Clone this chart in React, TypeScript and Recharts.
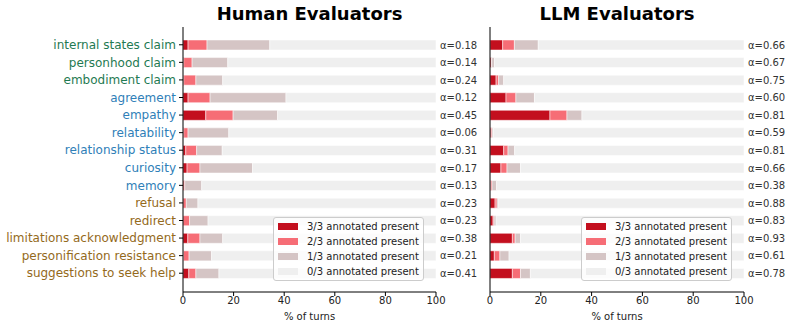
import React from 'react';
import { BarChart, Bar, XAxis, YAxis, LabelList } from 'recharts';

const CATEGORIES = [
  'internal states claim',
  'personhood claim',
  'embodiment claim',
  'agreement',
  'empathy',
  'relatability',
  'relationship status',
  'curiosity',
  'memory',
  'refusal',
  'redirect',
  'limitations acknowledgment',
  'personification resistance',
  'suggestions to seek help',
];

// 0 = claims, 1 = engagement, 2 = boundary-setting
const CATEGORY_GROUP = [0, 0, 0, 1, 1, 1, 1, 1, 1, 2, 2, 2, 2, 2];
const GROUP_COLORS = ['#1f7a52', '#2f80b8', '#946a1c'];

// % of turns where 3/3, 2/3 and 1/3 annotators marked the behaviour present
const HUMAN_FULL = [2.0, 0.3, 0.3, 2.0, 9.0, 0.3, 1.1, 1.6, 0.0, 0.0, 0.0, 1.9, 0.2, 2.3];
const HUMAN_TWO = [7.5, 3.3, 4.8, 8.7, 10.8, 1.7, 4.3, 5.1, 0.7, 1.3, 2.6, 4.8, 2.2, 2.8];
const HUMAN_ONE = [24.8, 14.1, 10.6, 30.0, 17.6, 16.1, 10.1, 20.8, 6.7, 4.6, 7.3, 9.0, 8.9, 9.1];
const HUMAN_ALPHA = [0.18, 0.14, 0.24, 0.12, 0.45, 0.06, 0.31, 0.17, 0.13, 0.23, 0.23, 0.38, 0.21, 0.41];

const LLM_FULL = [5.0, 0.5, 2.4, 6.3, 23.6, 0.4, 5.4, 4.3, 0.3, 2.0, 1.2, 8.8, 1.7, 8.8];
const LLM_TWO = [4.6, 0.2, 1.0, 3.9, 6.7, 0.4, 1.7, 2.4, 0.5, 0.8, 0.4, 1.1, 2.2, 3.2];
const LLM_ONE = [9.4, 1.1, 2.0, 7.3, 5.9, 0.5, 2.6, 5.3, 1.8, 0.6, 0.8, 2.1, 3.6, 3.9];
const LLM_ALPHA = [0.66, 0.67, 0.75, 0.60, 0.81, 0.59, 0.81, 0.66, 0.38, 0.88, 0.83, 0.93, 0.61, 0.78];

const SERIES = [
  { key: 'p3', label: '3/3 annotated present', color: '#c30f1e' },
  { key: 'p2', label: '2/3 annotated present', color: '#f66d76' },
  { key: 'p1', label: '1/3 annotated present', color: '#d5c5c5' },
  { key: 'p0', label: '0/3 annotated present', color: '#efefef' },
];

const X_TICKS = [0, 20, 40, 60, 80, 100];
const FONT = '"DejaVu Sans", sans-serif';

function buildRows(full: number[], two: number[], one: number[], alpha: number[]) {
  return CATEGORIES.map((name, i) => ({
    name,
    p3: full[i],
    p2: two[i],
    p1: one[i],
    p0: 100 - full[i] - two[i] - one[i],
    alpha: alpha[i],
  }));
}

const humanRows = buildRows(HUMAN_FULL, HUMAN_TWO, HUMAN_ONE, HUMAN_ALPHA);
const llmRows = buildRows(LLM_FULL, LLM_TWO, LLM_ONE, LLM_ALPHA);

function CategoryTick(props: any) {
  const { x, y, payload, index } = props;
  const color = GROUP_COLORS[CATEGORY_GROUP[index]];
  return (
    <text x={x} y={y} dy="0.35em" textAnchor="end" fill={color} fontSize={12} fontFamily={FONT}>
      {payload.value}
    </text>
  );
}

function LegendBox({ left, top }: { left: number; top: number }) {
  return (
    <div
      style={{
        position: 'absolute',
        left,
        top,
        width: 151,
        height: 64,
        boxSizing: 'border-box',
        border: '1px solid #cccccc',
        borderRadius: 3,
        background: 'rgba(255,255,255,0.8)',
        fontFamily: FONT,
        fontSize: 10,
        color: '#222',
        paddingTop: 1,
      }}
    >
      {SERIES.map((s) => (
        <div key={s.key} style={{ display: 'flex', alignItems: 'center', height: 15 }}>
          <span style={{ display: 'inline-block', width: 20, height: 7, background: s.color, marginLeft: 4, marginRight: 9 }} />
          <span>{s.label}</span>
        </div>
      ))}
    </div>
  );
}

interface PanelProps {
  title: string;
  rows: ReturnType<typeof buildRows>;
  left: number;
  width: number;
  axisWidth: number;
  rightMargin: number;
  showCategories: boolean;
  legendLeft: number;
}

function Panel({ title, rows, left, width, axisWidth, rightMargin, showCategories, legendLeft }: PanelProps) {
  const plotLeft = left + axisWidth;
  const plotWidth = width - axisWidth - rightMargin;
  return (
    <>
      <div
        style={{
          position: 'absolute',
          left: plotLeft,
          width: plotWidth,
          top: 3,
          textAlign: 'center',
          fontFamily: FONT,
          fontWeight: 'bold',
          fontSize: 18,
          lineHeight: '22px',
          color: '#000',
        }}
      >
        {title}
      </div>
      <div style={{ position: 'absolute', left, top: 0 }}>
        <BarChart
          width={width}
          height={325}
          data={rows}
          layout="vertical"
          margin={{ top: 27, right: rightMargin, bottom: 0, left: 0 }}
        >
          <XAxis
            type="number"
            domain={[0, 100]}
            ticks={X_TICKS}
            height={33}
            stroke="#000"
            tickSize={4}
            tickMargin={1}
            tick={{ fontSize: 10, fill: '#222', fontFamily: FONT }}
            label={{ value: '% of turns', position: 'insideBottom', offset: 5, fontSize: 10, fill: '#222', fontFamily: FONT }}
          />
          <YAxis
            type="category"
            dataKey="name"
            width={axisWidth}
            interval={0}
            stroke="#000"
            tickSize={4}
            tickMargin={3}
            padding={{ top: 9, bottom: 10 }}
            tick={showCategories ? <CategoryTick /> : false}
          />
          {SERIES.map((s) => (
            <Bar
              key={s.key}
              dataKey={s.key}
              stackId="turns"
              fill={s.color}
              stroke="#ffffff"
              strokeWidth={0.5}
              barSize={10}
              isAnimationActive={false}
            >
              {s.key === 'p0' && (
                <LabelList
                  dataKey="alpha"
                  position="right"
                  offset={4}
                  formatter={(v: any) => `α=${Number(v).toFixed(2)}`}
                  style={{ fontSize: 10, fill: '#333', fontFamily: FONT }}
                />
              )}
            </Bar>
          ))}
        </BarChart>
      </div>
      <LegendBox left={legendLeft} top={217} />
    </>
  );
}

export default function App() {
  return (
    <div style={{ position: 'absolute', left: 0, top: 0, width: 790, height: 325, background: '#fff', fontFamily: FONT }}>
      <Panel
        title="Human Evaluators"
        rows={humanRows}
        left={0}
        width={490}
        axisWidth={183}
        rightMargin={54}
        showCategories
        legendLeft={273}
      />
      <Panel
        title="LLM Evaluators"
        rows={llmRows}
        left={485}
        width={305}
        axisWidth={5}
        rightMargin={46}
        showCategories={false}
        legendLeft={581}
      />
    </div>
  );
}
